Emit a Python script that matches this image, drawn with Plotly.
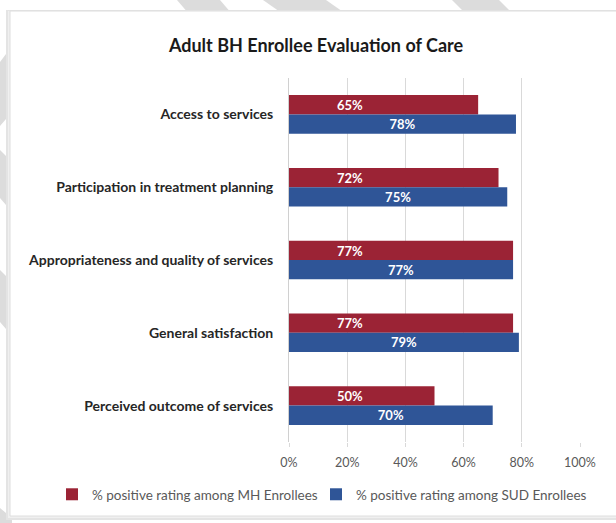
import plotly.graph_objects as go

categories = [
    "Access to services",
    "Participation in treatment planning",
    "Appropriateness and quality of services",
    "General satisfaction",
    "Perceived outcome of services",
]
mh_values = [0.65, 0.72, 0.77, 0.77, 0.50]
sud_values = [0.78, 0.75, 0.77, 0.79, 0.70]
mh_name = "% positive rating among MH Enrollees"
sud_name = "% positive rating among SUD Enrollees"
x_ticks = [0, 0.2, 0.4, 0.6, 0.8, 1.0]
x_tick_labels = ["0%", "20%", "40%", "60%", "80%", "100%"]

RED = "#9B2335"
BLUE = "#2F5597"
FONT = "Lato"
MH_LABEL_X = 0.21  # labels of the MH series sit near the left in the original

W, H = 616, 523
L, R, T, B = 289, 36, 78, 81
PW, PH = W - L - R, H - T - B


def px(x):
    return (x - L) / PW


def py(y):
    return (H - B - y) / PH


fig = go.Figure()
fig.add_trace(go.Bar(
    y=categories, x=mh_values, name=mh_name, orientation="h",
    marker=dict(color=RED, line=dict(width=0)), legend="legend",
))
fig.add_trace(go.Bar(
    y=categories, x=sud_values, name=sud_name, orientation="h",
    marker=dict(color=BLUE, line=dict(width=0)), legend="legend2",
    text=[f"{v:.0%}" for v in sud_values], textposition="inside",
    insidetextanchor="middle", constraintext="none",
    textfont=dict(family=FONT, size=13, color="white", weight="bold"),
))

annotations = []
for c, v in zip(categories, mh_values):
    annotations.append(dict(
        x=MH_LABEL_X, y=c, xref="x", yref="y", text=f"<b>{v:.0%}</b>",
        showarrow=False, yshift=9.5, font=dict(family=FONT, size=13, color="white"),
        xanchor="center", yanchor="middle",
    ))

shapes = []
# background diagonal stripes (decoration outside the chart frame)
stripes = [
    [(177, 0), (220, 0), (232, 14), (189, 14)],
    [(263, 0), (326, 0), (346, 14), (283, 14)],
    [(452, 0), (499, 0), (513, 14), (466, 14)],
    [(0, 62), (12, 46), (12, 112), (0, 126)],
    [(0, 150), (12, 162), (12, 212), (0, 198)],
    [(0, 270), (12, 282), (12, 336), (0, 322)],
    [(0, 508), (12, 518), (12, 523), (0, 523)],
]
for poly in stripes:
    path = "M " + " L ".join(f"{px(a):.5f},{py(b):.5f}" for a, b in poly) + " Z"
    shapes.append(dict(type="path", path=path, xref="paper", yref="paper",
                       fillcolor="#dcdcdc", line=dict(width=0), layer="below"))
# frame shadow + frame
shapes.append(dict(type="rect", xref="paper", yref="paper",
                   x0=px(6), x1=px(624), y0=py(520), y1=py(10),
                   fillcolor="#e4e4e4", line=dict(width=0), layer="below"))
shapes.append(dict(type="rect", xref="paper", yref="paper",
                   x0=px(8), x1=px(624), y0=py(518), y1=py(11),
                   fillcolor="#f0f0f0", line=dict(width=0), layer="below"))
shapes.append(dict(type="rect", xref="paper", yref="paper",
                   x0=px(10), x1=px(624), y0=py(516), y1=py(11),
                   fillcolor="white", line=dict(color="#dedede", width=1), layer="below"))

legend_common = dict(orientation="h", xref="container", yref="container",
                     xanchor="left", y=1 - 494.5 / H, yanchor="middle",
                     font=dict(family=FONT, size=13.5, color="#595959"),
                     itemwidth=30, bgcolor="rgba(0,0,0,0)")

fig.update_layout(
    width=W, height=H,
    margin=dict(l=L, r=R, t=T, b=B, autoexpand=False),
    paper_bgcolor="white", plot_bgcolor="rgba(0,0,0,0)",
    barmode="group", bargap=0.47, bargroupgap=0,
    font=dict(family=FONT, color="#595959"),
    title=dict(text="<b>Adult BH Enrollee Evaluation of Care</b>",
               xref="container", x=0.513, xanchor="center",
               yref="container", y=1 - 46 / H, yanchor="middle",
               font=dict(family=FONT, size=18, color="#1a1a1a")),
    xaxis=dict(range=[0, 1], tickvals=x_ticks, ticktext=x_tick_labels,
               showgrid=True, gridcolor="#d9d9d9", gridwidth=1,
               zeroline=False, showline=False,
               ticks="outside", ticklen=4, tickcolor="#d9d9d9",
               ticklabelstandoff=5,
               tickfont=dict(family=FONT, size=12.5, color="#595959")),
    yaxis=dict(autorange="reversed", showgrid=False, zeroline=False,
               showline=True, linecolor="#d0d0d0", linewidth=1,
               ticks="", ticklabelstandoff=12,
               tickfont=dict(family=FONT, size=14, color="#262626", weight="bold")),
    legend=dict(x=(92 - 40) / W, **legend_common),
    legend2=dict(x=(356 - 40) / W, **legend_common),
    annotations=annotations,
    shapes=shapes,
    showlegend=True,
)

fig.write_html("out.html")
